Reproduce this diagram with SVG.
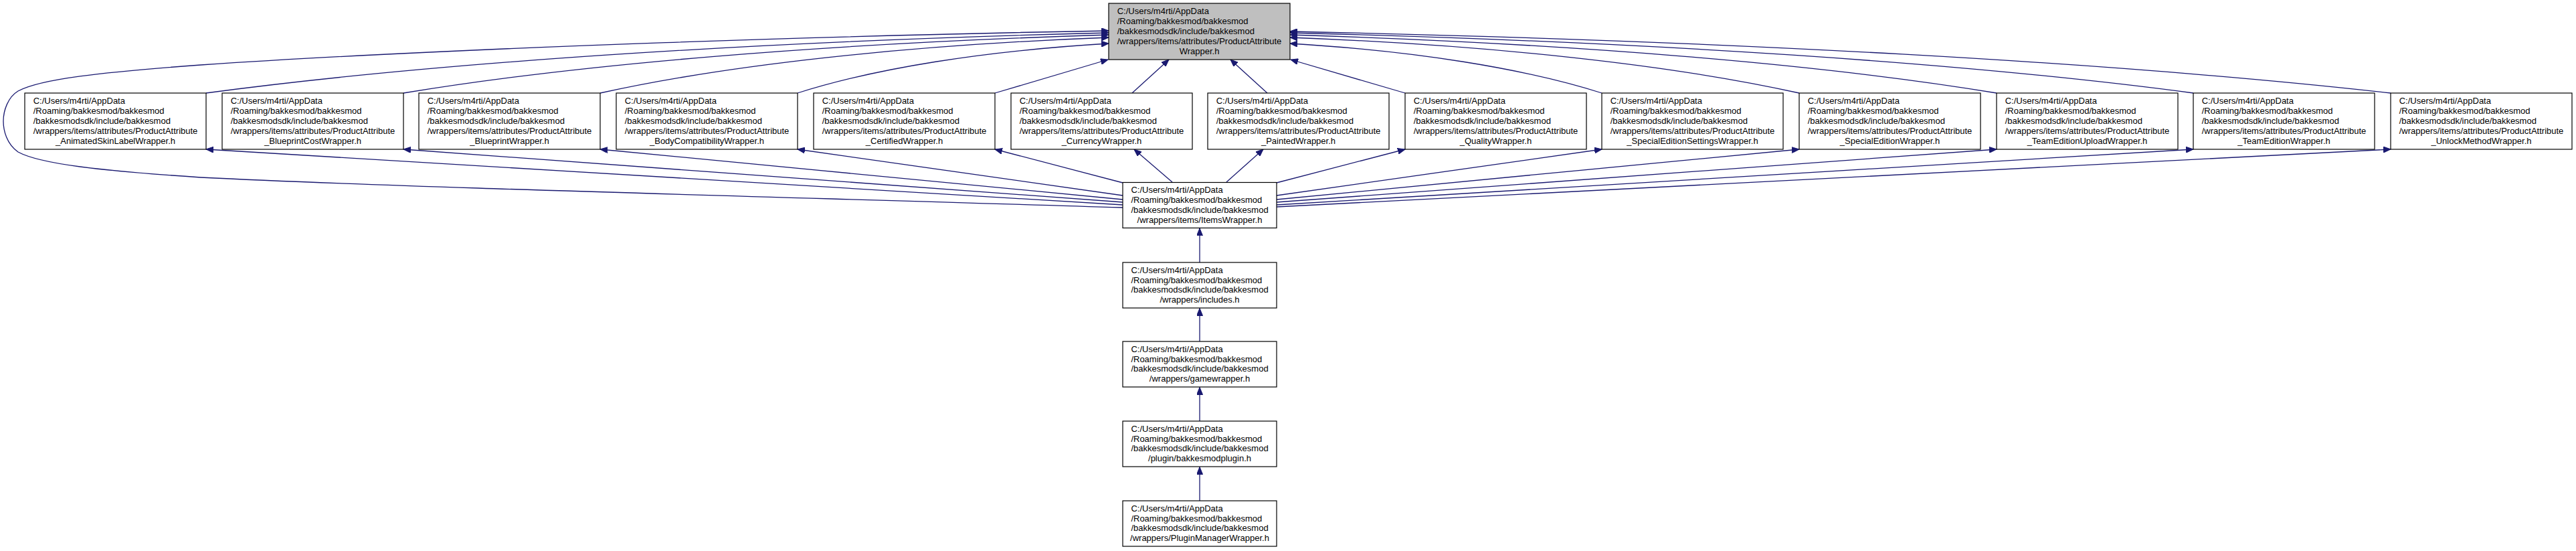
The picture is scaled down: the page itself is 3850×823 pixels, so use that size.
<svg xmlns="http://www.w3.org/2000/svg" width="3850" height="823" viewBox="0 0 3850 823">
<style>
.n rect{fill:#ffffff;stroke:#000000;stroke-width:1.2}
.n.root rect{fill:#bfbfbf}
.n text{font-family:"Liberation Sans",Arial,sans-serif;font-size:13px;fill:#000000}
.n text.c{text-anchor:middle}
.e path{fill:none;stroke:#191970;stroke-width:1.3}
</style>
<defs>
<marker id="ah" markerUnits="userSpaceOnUse" markerWidth="12" markerHeight="9" refX="11" refY="4.5" orient="auto">
<path d="M0,0 L11,4.5 L0,9 Z" fill="#191970" stroke="#191970" stroke-width="1"/>
</marker>
</defs>
<rect width="3850" height="823" fill="#ffffff"/>

<g id="connectors" class="e">
<!-- row nodes to ProductAttributeWrapper.h -->
<path marker-end="url(#ah)" d="M308,139 C645,94 1117,62.5 1657,49"/>
<path marker-end="url(#ah)" d="M603,139 C866,95.5 1235,65 1657,52"/>
<path marker-end="url(#ah)" d="M897,139 C1087,97 1353,67.6 1657,56"/>
<path marker-end="url(#ah)" d="M1192,139 C1308,102 1471,76 1657,65"/>
<path marker-end="url(#ah)" d="M1487,139 L1656,89"/>
<path marker-end="url(#ah)" d="M1692,139 L1747,89"/>
<path marker-end="url(#ah)" d="M1894,139 L1839,89"/>
<path marker-end="url(#ah)" d="M2100,139 L1929,89"/>
<path marker-end="url(#ah)" d="M2394,139 C2277.5,102 2114,76 1928,65"/>
<path marker-end="url(#ah)" d="M2689,139 C2499,97 2232,67.6 1928,56"/>
<path marker-end="url(#ah)" d="M2984,139 C2720,95.5 2350,65 1928,52"/>
<path marker-end="url(#ah)" d="M3278,139 C2940,94 2468,62.5 1928,49"/>
<path marker-end="url(#ah)" d="M3573,139 C3162,93 2586,60.8 1928,47"/>
<!-- ItemsWrapper.h to ProductAttributeWrapper.h (loop) -->
<path marker-end="url(#ah)" d="M1678,310 C1200,295 600,280 300,265 C150,255 60,245 27,227 C10,215 5,195 5,181 C5,165 12,145 27,136 C60,118 150,108 300,97 C700,70 1300,52 1657,46"/>
<!-- ItemsWrapper.h to row nodes -->
<path marker-end="url(#ah)" d="M1678,306 L308,223"/>
<path marker-end="url(#ah)" d="M1678,302 L603,223"/>
<path marker-end="url(#ah)" d="M1678,298 L897,223"/>
<path marker-end="url(#ah)" d="M1678,292 L1192,223"/>
<path marker-end="url(#ah)" d="M1678,273 L1487,223"/>
<path marker-end="url(#ah)" d="M1752,272 L1695,223"/>
<path marker-end="url(#ah)" d="M1833,272 L1888,223"/>
<path marker-end="url(#ah)" d="M1908,273 L2100,223"/>
<path marker-end="url(#ah)" d="M1908,292 L2394,223"/>
<path marker-end="url(#ah)" d="M1908,298 L2689,223"/>
<path marker-end="url(#ah)" d="M1908,302 L2984,223"/>
<path marker-end="url(#ah)" d="M1908,306 L3278,223"/>
<path marker-end="url(#ah)" d="M1908,309 L3573,223"/>
<!-- vertical chain -->
<path marker-end="url(#ah)" d="M1793,392 L1793,341"/>
<path marker-end="url(#ah)" d="M1793,510 L1793,460.5"/>
<path marker-end="url(#ah)" d="M1793,629 L1793,578.5"/>
<path marker-end="url(#ah)" d="M1793,748 L1793,697.5"/>
</g>

<g id="node-ProductAttributeWrapper" class="n root" transform="translate(1657,5)">
<rect x="0" y="0" width="271" height="84"/>
<text x="12.7" y="16.4">C:/Users/m4rti/AppData</text>
<text x="12.7" y="31.2">/Roaming/bakkesmod/bakkesmod</text>
<text x="12.7" y="46">/bakkesmodsdk/include/bakkesmod</text>
<text x="12.7" y="60.8">/wrappers/items/attributes/ProductAttribute</text>
<text class="c" x="135.5" y="75.6">Wrapper.h</text>
</g>

<g id="node-AnimatedSkinLabelWrapper" class="n" transform="translate(37,139)">
<rect x="0" y="0" width="271" height="84"/>
<text x="12.7" y="16.4">C:/Users/m4rti/AppData</text>
<text x="12.7" y="31.2">/Roaming/bakkesmod/bakkesmod</text>
<text x="12.7" y="46">/bakkesmodsdk/include/bakkesmod</text>
<text x="12.7" y="60.8">/wrappers/items/attributes/ProductAttribute</text>
<text class="c" x="135.5" y="75.6">_AnimatedSkinLabelWrapper.h</text>
</g>

<g id="node-BlueprintCostWrapper" class="n" transform="translate(332,139)">
<rect x="0" y="0" width="271" height="84"/>
<text x="12.7" y="16.4">C:/Users/m4rti/AppData</text>
<text x="12.7" y="31.2">/Roaming/bakkesmod/bakkesmod</text>
<text x="12.7" y="46">/bakkesmodsdk/include/bakkesmod</text>
<text x="12.7" y="60.8">/wrappers/items/attributes/ProductAttribute</text>
<text class="c" x="135.5" y="75.6">_BlueprintCostWrapper.h</text>
</g>

<g id="node-BlueprintWrapper" class="n" transform="translate(626,139)">
<rect x="0" y="0" width="271" height="84"/>
<text x="12.7" y="16.4">C:/Users/m4rti/AppData</text>
<text x="12.7" y="31.2">/Roaming/bakkesmod/bakkesmod</text>
<text x="12.7" y="46">/bakkesmodsdk/include/bakkesmod</text>
<text x="12.7" y="60.8">/wrappers/items/attributes/ProductAttribute</text>
<text class="c" x="135.5" y="75.6">_BlueprintWrapper.h</text>
</g>

<g id="node-BodyCompatibilityWrapper" class="n" transform="translate(921,139)">
<rect x="0" y="0" width="271" height="84"/>
<text x="12.7" y="16.4">C:/Users/m4rti/AppData</text>
<text x="12.7" y="31.2">/Roaming/bakkesmod/bakkesmod</text>
<text x="12.7" y="46">/bakkesmodsdk/include/bakkesmod</text>
<text x="12.7" y="60.8">/wrappers/items/attributes/ProductAttribute</text>
<text class="c" x="135.5" y="75.6">_BodyCompatibilityWrapper.h</text>
</g>

<g id="node-CertifiedWrapper" class="n" transform="translate(1216,139)">
<rect x="0" y="0" width="271" height="84"/>
<text x="12.7" y="16.4">C:/Users/m4rti/AppData</text>
<text x="12.7" y="31.2">/Roaming/bakkesmod/bakkesmod</text>
<text x="12.7" y="46">/bakkesmodsdk/include/bakkesmod</text>
<text x="12.7" y="60.8">/wrappers/items/attributes/ProductAttribute</text>
<text class="c" x="135.5" y="75.6">_CertifiedWrapper.h</text>
</g>

<g id="node-CurrencyWrapper" class="n" transform="translate(1511,139)">
<rect x="0" y="0" width="271" height="84"/>
<text x="12.7" y="16.4">C:/Users/m4rti/AppData</text>
<text x="12.7" y="31.2">/Roaming/bakkesmod/bakkesmod</text>
<text x="12.7" y="46">/bakkesmodsdk/include/bakkesmod</text>
<text x="12.7" y="60.8">/wrappers/items/attributes/ProductAttribute</text>
<text class="c" x="135.5" y="75.6">_CurrencyWrapper.h</text>
</g>

<g id="node-PaintedWrapper" class="n" transform="translate(1805,139)">
<rect x="0" y="0" width="271" height="84"/>
<text x="12.7" y="16.4">C:/Users/m4rti/AppData</text>
<text x="12.7" y="31.2">/Roaming/bakkesmod/bakkesmod</text>
<text x="12.7" y="46">/bakkesmodsdk/include/bakkesmod</text>
<text x="12.7" y="60.8">/wrappers/items/attributes/ProductAttribute</text>
<text class="c" x="135.5" y="75.6">_PaintedWrapper.h</text>
</g>

<g id="node-QualityWrapper" class="n" transform="translate(2100,139)">
<rect x="0" y="0" width="271" height="84"/>
<text x="12.7" y="16.4">C:/Users/m4rti/AppData</text>
<text x="12.7" y="31.2">/Roaming/bakkesmod/bakkesmod</text>
<text x="12.7" y="46">/bakkesmodsdk/include/bakkesmod</text>
<text x="12.7" y="60.8">/wrappers/items/attributes/ProductAttribute</text>
<text class="c" x="135.5" y="75.6">_QualityWrapper.h</text>
</g>

<g id="node-SpecialEditionSettingsWrapper" class="n" transform="translate(2394,139)">
<rect x="0" y="0" width="271" height="84"/>
<text x="12.7" y="16.4">C:/Users/m4rti/AppData</text>
<text x="12.7" y="31.2">/Roaming/bakkesmod/bakkesmod</text>
<text x="12.7" y="46">/bakkesmodsdk/include/bakkesmod</text>
<text x="12.7" y="60.8">/wrappers/items/attributes/ProductAttribute</text>
<text class="c" x="135.5" y="75.6">_SpecialEditionSettingsWrapper.h</text>
</g>

<g id="node-SpecialEditionWrapper" class="n" transform="translate(2689,139)">
<rect x="0" y="0" width="271" height="84"/>
<text x="12.7" y="16.4">C:/Users/m4rti/AppData</text>
<text x="12.7" y="31.2">/Roaming/bakkesmod/bakkesmod</text>
<text x="12.7" y="46">/bakkesmodsdk/include/bakkesmod</text>
<text x="12.7" y="60.8">/wrappers/items/attributes/ProductAttribute</text>
<text class="c" x="135.5" y="75.6">_SpecialEditionWrapper.h</text>
</g>

<g id="node-TeamEditionUploadWrapper" class="n" transform="translate(2984,139)">
<rect x="0" y="0" width="271" height="84"/>
<text x="12.7" y="16.4">C:/Users/m4rti/AppData</text>
<text x="12.7" y="31.2">/Roaming/bakkesmod/bakkesmod</text>
<text x="12.7" y="46">/bakkesmodsdk/include/bakkesmod</text>
<text x="12.7" y="60.8">/wrappers/items/attributes/ProductAttribute</text>
<text class="c" x="135.5" y="75.6">_TeamEditionUploadWrapper.h</text>
</g>

<g id="node-TeamEditionWrapper" class="n" transform="translate(3278,139)">
<rect x="0" y="0" width="271" height="84"/>
<text x="12.7" y="16.4">C:/Users/m4rti/AppData</text>
<text x="12.7" y="31.2">/Roaming/bakkesmod/bakkesmod</text>
<text x="12.7" y="46">/bakkesmodsdk/include/bakkesmod</text>
<text x="12.7" y="60.8">/wrappers/items/attributes/ProductAttribute</text>
<text class="c" x="135.5" y="75.6">_TeamEditionWrapper.h</text>
</g>

<g id="node-UnlockMethodWrapper" class="n" transform="translate(3573,139)">
<rect x="0" y="0" width="271" height="84"/>
<text x="12.7" y="16.4">C:/Users/m4rti/AppData</text>
<text x="12.7" y="31.2">/Roaming/bakkesmod/bakkesmod</text>
<text x="12.7" y="46">/bakkesmodsdk/include/bakkesmod</text>
<text x="12.7" y="60.8">/wrappers/items/attributes/ProductAttribute</text>
<text class="c" x="135.5" y="75.6">_UnlockMethodWrapper.h</text>
</g>

<g id="node-ItemsWrapper" class="n" transform="translate(1678,272.5)">
<rect x="0" y="0" width="230" height="68"/>
<text x="12.4" y="15.8">C:/Users/m4rti/AppData</text>
<text x="12.4" y="30.6">/Roaming/bakkesmod/bakkesmod</text>
<text x="12.4" y="45.4">/bakkesmodsdk/include/bakkesmod</text>
<text class="c" x="115" y="60.2">/wrappers/items/ItemsWrapper.h</text>
</g>

<g id="node-includes" class="n" transform="translate(1678,392)">
<rect x="0" y="0" width="230" height="68"/>
<text x="12.4" y="15.8">C:/Users/m4rti/AppData</text>
<text x="12.4" y="30.6">/Roaming/bakkesmod/bakkesmod</text>
<text x="12.4" y="45.4">/bakkesmodsdk/include/bakkesmod</text>
<text class="c" x="115" y="60.2">/wrappers/includes.h</text>
</g>

<g id="node-gamewrapper" class="n" transform="translate(1678,510)">
<rect x="0" y="0" width="230" height="68"/>
<text x="12.4" y="15.8">C:/Users/m4rti/AppData</text>
<text x="12.4" y="30.6">/Roaming/bakkesmod/bakkesmod</text>
<text x="12.4" y="45.4">/bakkesmodsdk/include/bakkesmod</text>
<text class="c" x="115" y="60.2">/wrappers/gamewrapper.h</text>
</g>

<g id="node-bakkesmodplugin" class="n" transform="translate(1678,629)">
<rect x="0" y="0" width="230" height="68"/>
<text x="12.4" y="15.8">C:/Users/m4rti/AppData</text>
<text x="12.4" y="30.6">/Roaming/bakkesmod/bakkesmod</text>
<text x="12.4" y="45.4">/bakkesmodsdk/include/bakkesmod</text>
<text class="c" x="115" y="60.2">/plugin/bakkesmodplugin.h</text>
</g>

<g id="node-PluginManagerWrapper" class="n" transform="translate(1678,748)">
<rect x="0" y="0" width="230" height="68"/>
<text x="12.4" y="15.8">C:/Users/m4rti/AppData</text>
<text x="12.4" y="30.6">/Roaming/bakkesmod/bakkesmod</text>
<text x="12.4" y="45.4">/bakkesmodsdk/include/bakkesmod</text>
<text class="c" x="115" y="60.2">/wrappers/PluginManagerWrapper.h</text>
</g>
</svg>
